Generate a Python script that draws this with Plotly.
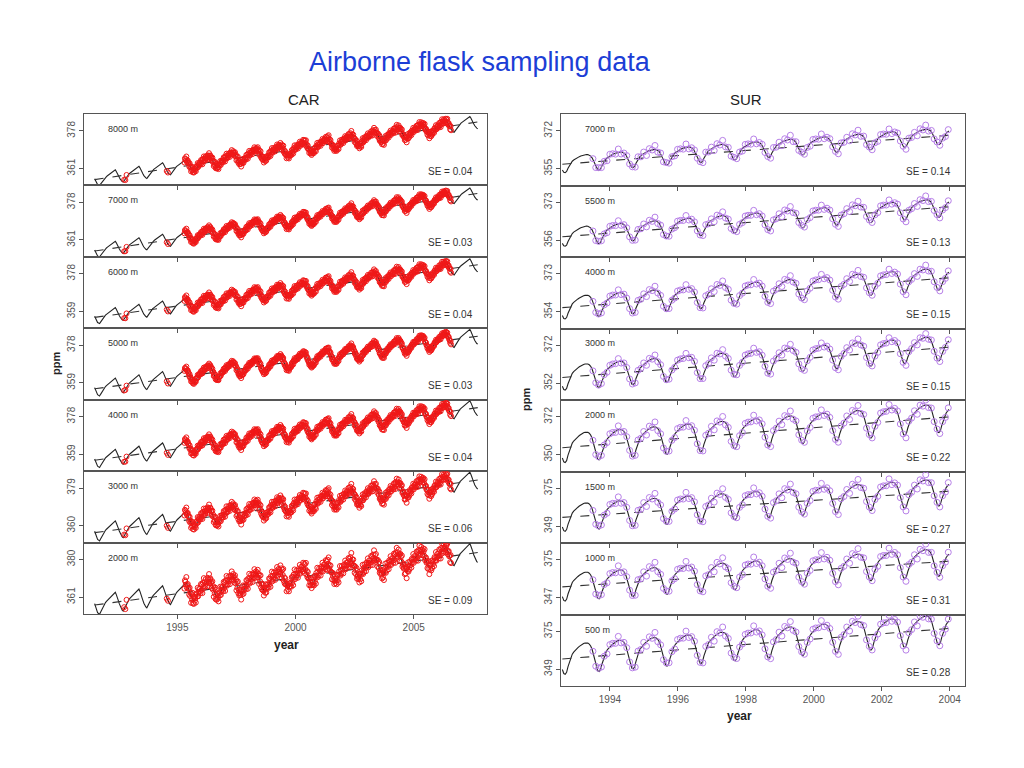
import numpy as np
import plotly.graph_objects as go

# ---- data ----
# normalised seasonal cycle, Jan..Dec
car_shape = [0.3, 0.5, 0.7, 0.9, 1.0, 0.5, -0.2, -0.8, -1.0, -0.6, -0.2, 0.1]
sur_shape = [0.6, 0.75, 0.85, 0.9, 0.85, 0.6, -0.1, -0.9, -1.0, -0.3, 0.2, 0.45]

car_alt = ["8000 m", "7000 m", "6000 m", "5000 m", "4000 m", "3000 m", "2000 m"]
car_ticks = [(361, 378), (361, 378), (359, 378), (359, 378), (359, 378), (360, 379), (361, 380)]
car_trend = [(356, 382), (356, 382), (356, 382.5), (356, 382.5), (356, 382.5), (356.5, 383), (357, 383.5)]
car_amp = [3.0, 3.0, 3.5, 4.0, 4.0, 4.5, 5.0]
car_se = [0.04, 0.03, 0.04, 0.03, 0.04, 0.06, 0.09]

sur_alt = ["7000 m", "5500 m", "4000 m", "3000 m", "2000 m", "1500 m", "1000 m", "500 m"]
sur_ticks = [(355, 372), (356, 373), (354, 373), (352, 372), (350, 372), (349, 375), (347, 375), (349, 375)]
sur_trend = [(357, 370), (357.5, 371), (356, 371), (355, 371), (354, 372), (355, 373), (355, 374), (356, 377)]
sur_amp = [4.0, 4.5, 6.0, 7.0, 9.0, 10.0, 11.0, 11.0]
sur_se = [0.14, 0.13, 0.15, 0.15, 0.22, 0.27, 0.31, 0.28]

deviation = [0.4, -0.6, 0.9, -0.2, 0.1, -1.1, 0.7, 0.3, -0.4, 1.3, -0.8, 0.0,
             0.5, -0.3, 0.2, -0.9, 1.0, -0.5, 0.6, -1.4, 0.8, -0.1, 1.6, -0.7]

car_years = [1995, 2000, 2005]
sur_years = [1994, 1996, 1998, 2000, 2002, 2004]

W, H = 1024, 768
OX, OY = 8, 8  # page margin of the browser
fig = go.Figure()
layout = {}
ann = []


def px(x):
    return (x - OX) / W


def py(y):
    return 1 - (y - OY) / H


def curve(t, t0, t1, trend, amp, shape):
    tr = trend[0] + (trend[1] - trend[0]) * (t - t0) / (t1 - t0)
    ext = shape[-1:] + shape + shape[:1]
    mpos = np.arange(-1, 13) + 0.5
    frac = (t - np.floor(t)) * 12
    return tr + amp * np.interp(frac, mpos, ext), tr


def add_panel(i, x0, x1, top, bot, xr, span, ticks, trend, amp, se, alt, shape,
              tmark, color, msize, scale, years, showx):
    n = str(i + 1) if i else ""
    ts = np.arange(span[0], span[1], 1 / 24)
    y, tr = curve(ts, ts[0], ts[-1], trend, amp, shape)
    tm = np.array(tmark)
    ym, _ = curve(tm, ts[0], ts[-1], trend, amp, shape)
    dv = np.array([deviation[k % len(deviation)] for k in range(len(tm))]) * scale
    xa, ya = "x" + n, "y" + n
    fig.add_trace(go.Scatter(x=ts, y=y, mode="lines", xaxis=xa, yaxis=ya,
                             line=dict(color="#222", width=1.1), showlegend=False))
    fig.add_trace(go.Scatter(x=ts, y=tr, mode="lines", xaxis=xa, yaxis=ya,
                             line=dict(color="#333", width=1.1, dash="dash"), showlegend=False))
    fig.add_trace(go.Scatter(x=tm, y=ym + dv, mode="markers", xaxis=xa, yaxis=ya,
                             marker=dict(symbol="circle-open", size=msize, color=color, line=dict(width=1)),
                             showlegend=False))
    lo, hi = ticks
    d = hi - lo
    k = 17 / 38
    ax = dict(linecolor="#555", linewidth=1, mirror=True, showgrid=False, zeroline=False,
              ticks="outside", ticklen=4, tickcolor="#555", tickfont=dict(size=10, color="#555"))
    layout["xaxis" + n] = dict(ax, domain=[px(x0), px(x1)], range=xr, anchor=ya,
                               tickvals=years, showticklabels=showx)
    layout["yaxis" + n] = dict(ax, domain=[py(bot), py(top)], anchor=xa,
                               range=[lo - k * d, hi + k * d], tickvals=[lo, hi], tickangle=-90)
    ann.append(dict(xref="paper", yref="paper", x=px(x0 + 22), y=py(top + 15),
                    text=alt, showarrow=False, xanchor="left", yanchor="middle",
                    font=dict(size=9, color="#333")))
    ann.append(dict(xref="paper", yref="paper", x=px(x1 - 12), y=py(bot - 14),
                    text="SE = %.2f" % se, showarrow=False, xanchor="right", yanchor="middle",
                    font=dict(size=10, color="#333")))


car_marks = [1992.75, 1992.8, 1992.85, 1994.55, 1994.6] + list(np.arange(1995.3, 2006.6, 0.02))
sur_marks = list(np.arange(1993.5, 2004.0, 0.083))

ph = 500 / 7
for i in range(7):
    top = 114 + i * ph
    add_panel(i, 84, 487, top, top + ph, [1991.05, 2008.1], [1991.5, 2007.75], car_ticks[i],
              car_trend[i], car_amp[i], car_se[i], car_alt[i], car_shape, car_marks, "#f01818",
              5, car_se[i] * 25, car_years, i == 6)

ph = 572 / 8
for j in range(8):
    top = 114 + j * ph
    add_panel(7 + j, 561, 965, top, top + ph, [1992.56, 2004.45], [1992.6, 2004.0], sur_ticks[j],
              sur_trend[j], sur_amp[j], sur_se[j], sur_alt[j], sur_shape, sur_marks, "#b77fe8",
              6, sur_se[j] * 8, sur_years, j == 7)

ann += [
    dict(xref="paper", yref="paper", x=px(480), y=py(62), text="Airborne flask sampling data",
         showarrow=False, yanchor="middle", font=dict(size=27, color="#1c3ed6", family="Liberation Sans")),
    dict(xref="paper", yref="paper", x=px(286), y=py(100), text="CAR", showarrow=False,
         yanchor="middle", font=dict(size=15, color="#222")),
    dict(xref="paper", yref="paper", x=px(764), y=py(100), text="SUR", showarrow=False,
         yanchor="middle", font=dict(size=15, color="#222")),
    dict(xref="paper", yref="paper", x=px(48), y=py(364), text="<b>ppm</b>", showarrow=False,
         textangle=-90, font=dict(size=11, color="#222")),
    dict(xref="paper", yref="paper", x=px(526), y=py(400), text="<b>ppm</b>", showarrow=False,
         textangle=-90, font=dict(size=11, color="#222")),
    dict(xref="paper", yref="paper", x=px(272), y=py(645), text="<b>year</b>", showarrow=False,
         yanchor="middle", font=dict(size=12, color="#222")),
    dict(xref="paper", yref="paper", x=px(754), y=py(716), text="<b>year</b>", showarrow=False,
         yanchor="middle", font=dict(size=12, color="#222")),
]

fig.update_layout(layout)
fig.update_layout(width=W, height=H, margin=dict(l=0, r=0, t=0, b=0), annotations=ann,
                  plot_bgcolor="white", paper_bgcolor="white",
                  font=dict(family="Liberation Sans"))
fig.write_html("out.html")
